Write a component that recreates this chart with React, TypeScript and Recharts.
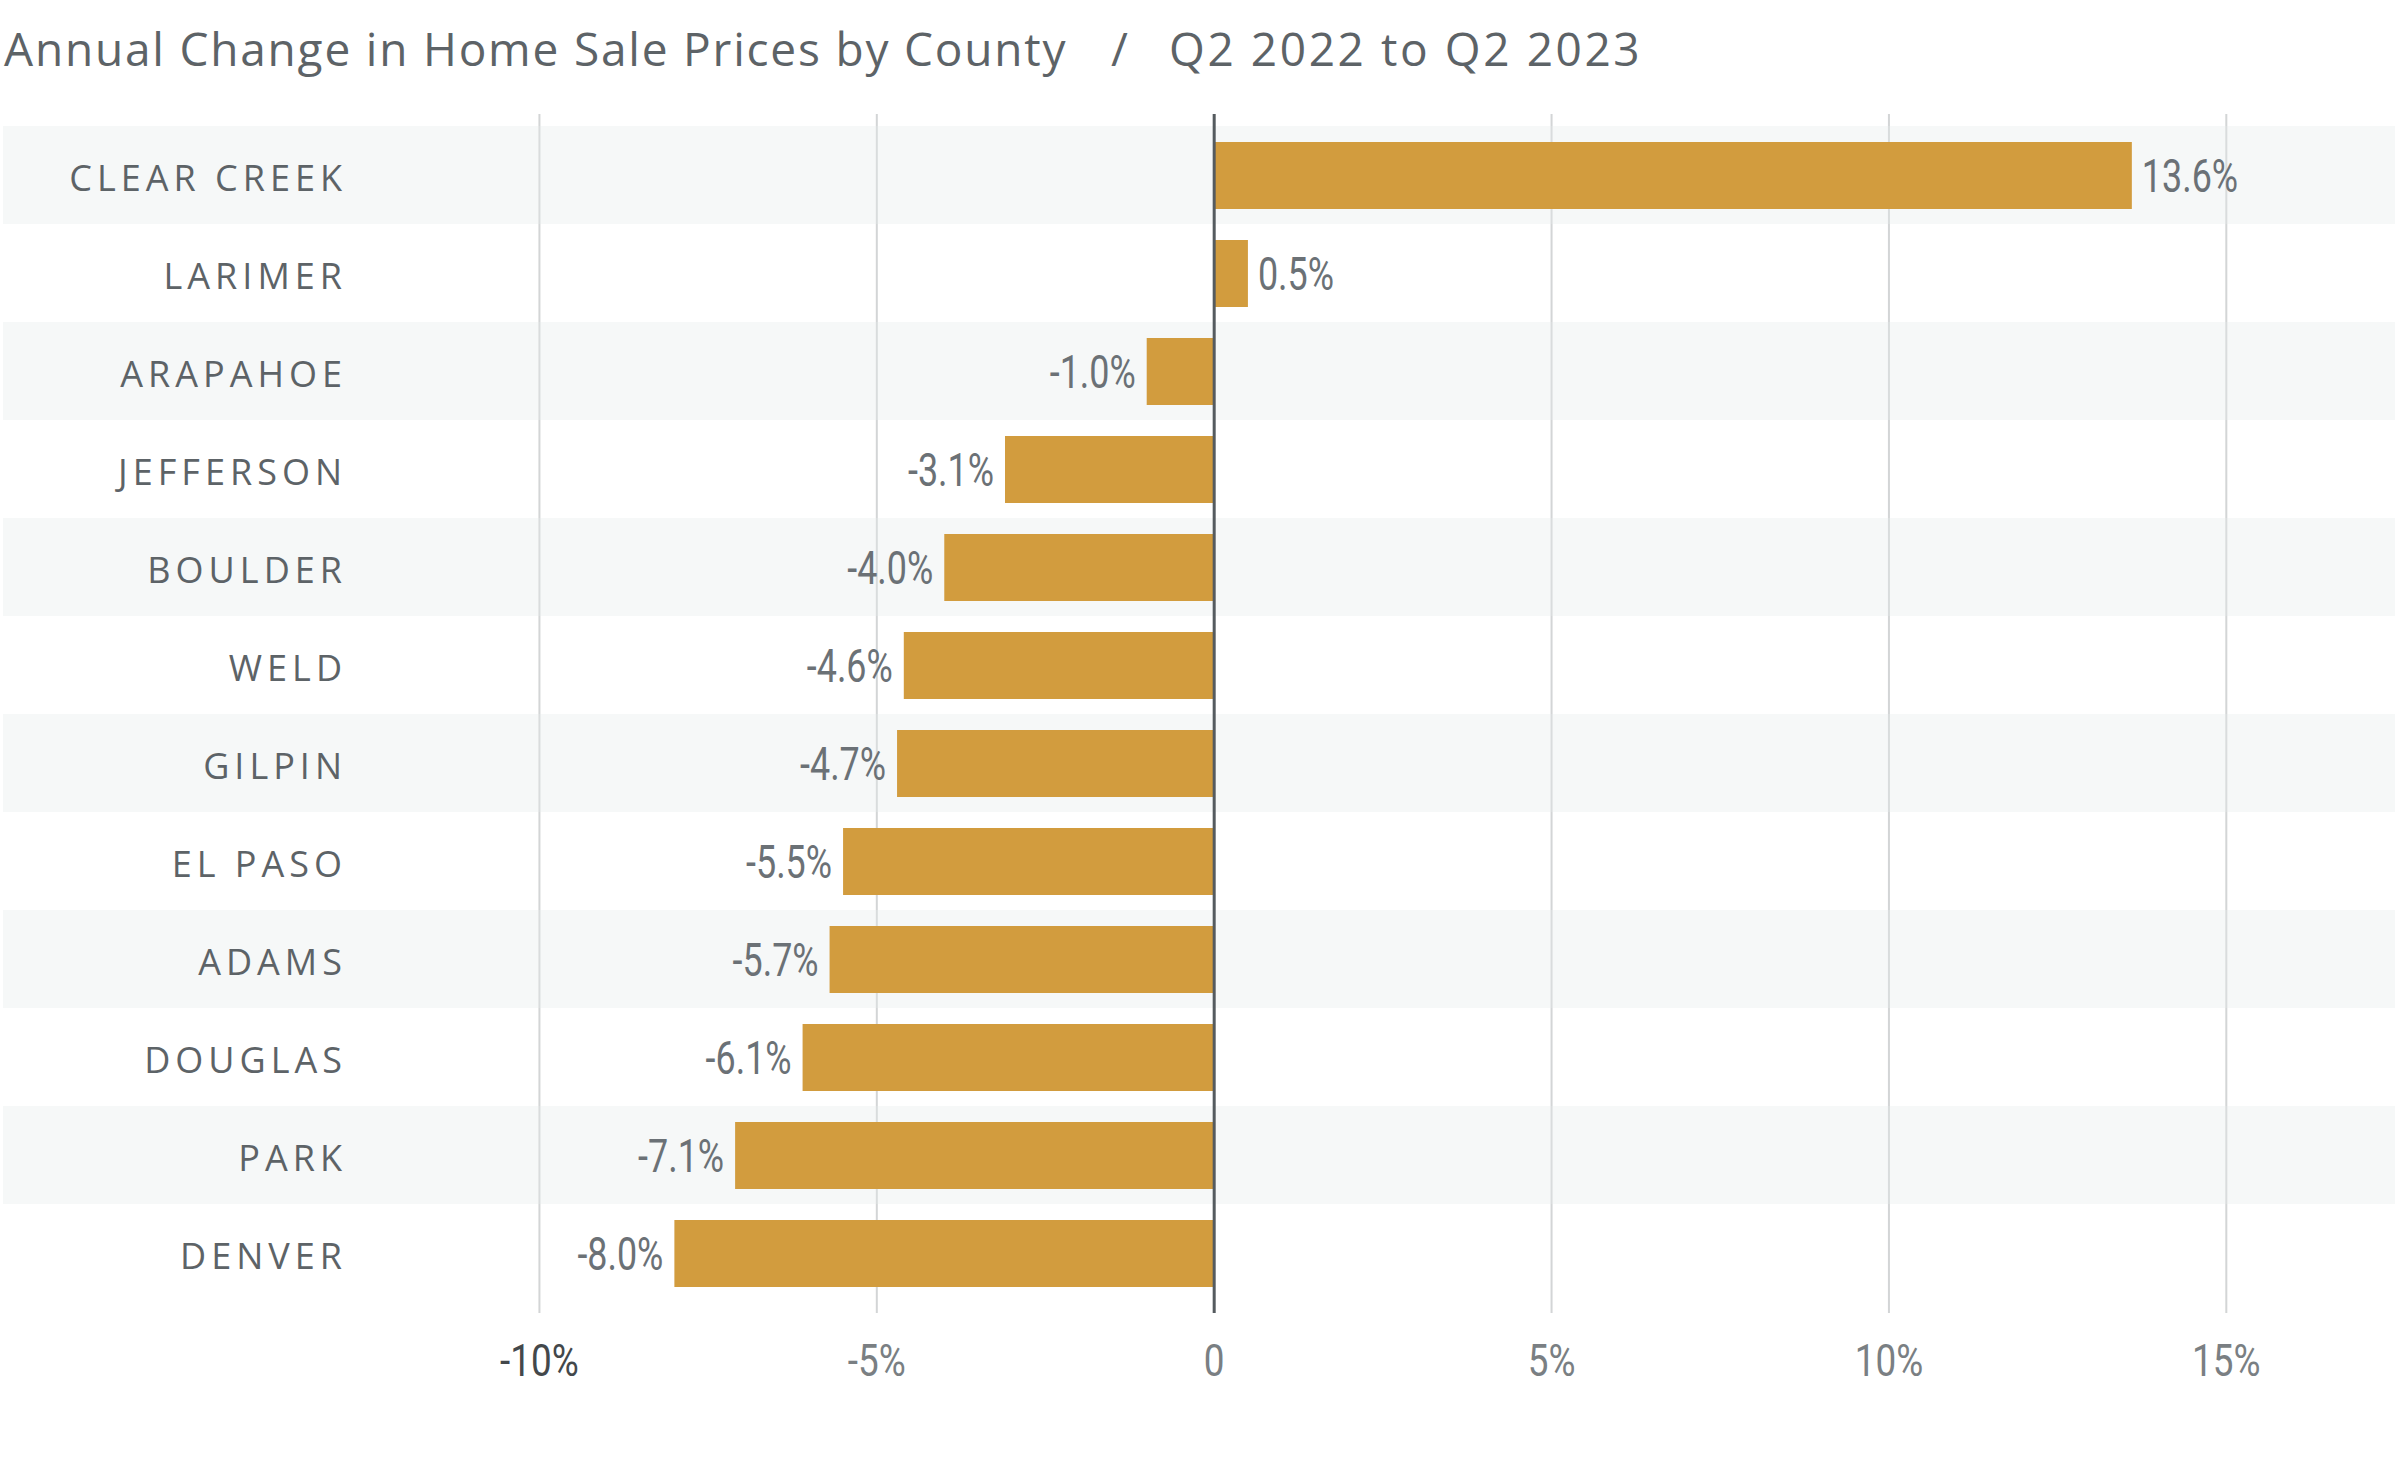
import React from "react";
import {
  BarChart,
  Bar,
  XAxis,
  YAxis,
  CartesianGrid,
  ReferenceArea,
  ReferenceLine,
  LabelList,
} from "recharts";

const counties = [
  "CLEAR CREEK",
  "LARIMER",
  "ARAPAHOE",
  "JEFFERSON",
  "BOULDER",
  "WELD",
  "GILPIN",
  "EL PASO",
  "ADAMS",
  "DOUGLAS",
  "PARK",
  "DENVER",
];
const changes = [13.6, 0.5, -1.0, -3.1, -4.0, -4.6, -4.7, -5.5, -5.7, -6.1, -7.1, -8.0];
const xTicks = [-10, -5, 0, 5, 10, 15];

const data = counties.map((name, i) => ({ name, change: changes[i] }));
const striped = counties.filter((_, i) => i % 2 === 0);

const GREY = "#5d6367";
const BAR = "#d29c3e";
const COND = "Roboto, 'Liberation Sans', sans-serif";

const fmtPct = (v: number) => (v === 0 ? "0" : `${v}%`);

function CountyTick({ x, y, payload }: any) {
  return (
    <text
      x={x + 344}
      y={y}
      dy={16}
      textAnchor="end"
      fontFamily="'Open Sans', sans-serif"
      fontSize={36}
      letterSpacing={5}
      fill={GREY}
    >
      {payload.value}
    </text>
  );
}

// narrow digits: the reference uses a condensed face, so squeeze horizontally
function PctTick({ x, y, payload }: any) {
  const v = payload.value;
  return (
    <text
      transform={`translate(${x},${y + 63}) scale(0.82,1)`}
      textAnchor="middle"
      fontFamily={COND}
      fontSize={45}
      fill={v === -10 ? "#43484b" : "#7a7f83"}
    >
      {fmtPct(v)}
    </text>
  );
}

function ValueLabel({ x, y, width, height, value }: any) {
  const pos = value >= 0;
  const end = pos ? Math.max(x, x + width) : Math.min(x, x + width);
  const tx = pos ? end + 10 : end - 11;
  return (
    <text
      transform={`translate(${tx},${y + height / 2 + 16}) scale(0.78,1)`}
      textAnchor={pos ? "start" : "end"}
      fontFamily={COND}
      fontSize={46}
      fill="#6b7176"
    >
      {`${value.toFixed(1)}%`}
    </text>
  );
}

export default function App() {
  return (
    <div style={{ position: "relative", width: 2400, height: 1460, background: "#fff" }}>
      <style>{`body{margin:0}`}</style>
      <svg
        width={2400}
        height={100}
        style={{ position: "absolute", left: 0, top: 0, pointerEvents: "none" }}
      >
        <g fontFamily="'Open Sans', sans-serif" fontSize={46} fill={GREY}>
          <text x={4} y={66} letterSpacing={1.8}>
            Annual Change in Home Sale Prices by County
          </text>
          <text x={1111} y={66}>/</text>
          <text x={1169} y={66} letterSpacing={2.6}>
            Q2 2022 to Q2 2023
          </text>
        </g>
      </svg>
      <BarChart
        width={2400}
        height={1460}
        data={data}
        layout="vertical"
        margin={{ top: 114, right: 5, left: 2, bottom: 87 }}
      >
        <CartesianGrid horizontal={false} syncWithTicks stroke="#d3d5d6" strokeWidth={2} />
        {striped.map((c) => (
          <ReferenceArea
            key={c}
            y1={c}
            y2={c}
            fill="#e4ebeb"
            fillOpacity={0.35}
            stroke="none"
            ifOverflow="visible"
          />
        ))}
        <XAxis
          type="number"
          domain={[-17.95, 17.5]}
          ticks={xTicks}
          interval={0}
          axisLine={false}
          tickLine={false}
          tickSize={0}
          tickMargin={0}
          height={60}
          tick={(p: any) => <PctTick {...p} />}
        />
        <YAxis
          type="category"
          dataKey="name"
          width={1}
          axisLine={false}
          tickLine={false}
          tickSize={0}
          tickMargin={0}
          padding={{ top: 12, bottom: 11 }}
          interval={0}
          tick={(p: any) => <CountyTick {...p} />}
        />
        <Bar dataKey="change" fill={BAR} barSize={67} isAnimationActive={false}>
          <LabelList dataKey="change" content={(p: any) => <ValueLabel {...p} />} />
        </Bar>
        <ReferenceLine x={0} stroke="#555b5f" strokeWidth={3} />
      </BarChart>
    </div>
  );
}
